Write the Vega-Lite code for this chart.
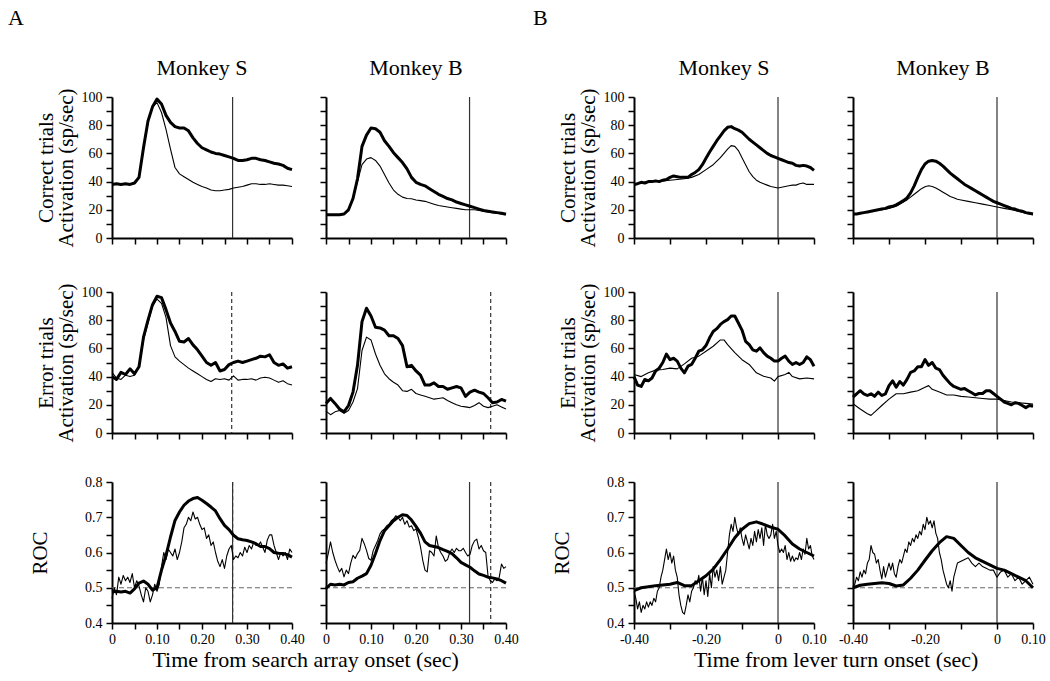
{
"$schema":"https://vega.github.io/schema/vega-lite/v6.json",
"background":"white",
"padding":{"left":8,"top":6,"right":2,"bottom":2},
"datasets":{
"markers":[{"p":"as1","t":0.268,"event":"correct RT"},{"p":"as2","t":0.266,"event":"error RT"},{"p":"as3","t":0.268,"event":"correct RT"},{"p":"as3","t":0.268,"event":"error RT"},{"p":"ab1","t":0.319,"event":"correct RT"},{"p":"ab2","t":0.366,"event":"error RT"},{"p":"ab3","t":0.319,"event":"correct RT"},{"p":"ab3","t":0.366,"event":"error RT"},{"p":"bs1","t":0,"event":"lever onset"},{"p":"bs2","t":0,"event":"lever onset"},{"p":"bs3","t":0,"event":"lever onset"},{"p":"bb1","t":0,"event":"lever onset"},{"p":"bb2","t":0,"event":"lever onset"},{"p":"bb3","t":0,"event":"lever onset"}],
"curves":[
{"p":"as1","t":0,"target":38,"distractor":38},{"p":"as1","t":0.01,"target":38.5,"distractor":38},{"p":"as1","t":0.02,"target":38,"distractor":38.5},{"p":"as1","t":0.03,"target":38.5,"distractor":38},{"p":"as1","t":0.04,"target":38,"distractor":38},{"p":"as1","t":0.05,"target":39,"distractor":39},{"p":"as1","t":0.06,"target":43,"distractor":43},{"p":"as1","t":0.07,"target":64,"distractor":63},{"p":"as1","t":0.08,"target":83,"distractor":82},{"p":"as1","t":0.09,"target":93,"distractor":93},{"p":"as1","t":0.1,"target":98.5,"distractor":96},{"p":"as1","t":0.11,"target":95,"distractor":89},{"p":"as1","t":0.12,"target":87,"distractor":77},{"p":"as1","t":0.13,"target":82,"distractor":63},{"p":"as1","t":0.14,"target":79,"distractor":50},{"p":"as1","t":0.15,"target":78,"distractor":45.5},{"p":"as1","t":0.16,"target":78,"distractor":43.5},{"p":"as1","t":0.17,"target":76,"distractor":41.5},{"p":"as1","t":0.18,"target":71,"distractor":39.5},{"p":"as1","t":0.19,"target":67,"distractor":38},{"p":"as1","t":0.2,"target":64,"distractor":36.5},{"p":"as1","t":0.21,"target":62.5,"distractor":35.5},{"p":"as1","t":0.22,"target":61,"distractor":34},{"p":"as1","t":0.23,"target":60,"distractor":33.5},{"p":"as1","t":0.24,"target":59.5,"distractor":33.5},{"p":"as1","t":0.25,"target":58.5,"distractor":34},{"p":"as1","t":0.26,"target":57.5,"distractor":34.5},{"p":"as1","t":0.27,"target":56.5,"distractor":35.5},{"p":"as1","t":0.28,"target":55,"distractor":36},{"p":"as1","t":0.29,"target":55,"distractor":36.5},{"p":"as1","t":0.3,"target":55.5,"distractor":37.5},{"p":"as1","t":0.31,"target":56.5,"distractor":38.5},{"p":"as1","t":0.32,"target":56.5,"distractor":38.5},{"p":"as1","t":0.33,"target":55.5,"distractor":38},{"p":"as1","t":0.34,"target":55,"distractor":38},{"p":"as1","t":0.35,"target":54,"distractor":38.5},{"p":"as1","t":0.36,"target":53,"distractor":38},{"p":"as1","t":0.37,"target":52.5,"distractor":37.5},{"p":"as1","t":0.38,"target":51.5,"distractor":37.5},{"p":"as1","t":0.39,"target":49.5,"distractor":37},{"p":"as1","t":0.4,"target":48.5,"distractor":36.5},
{"p":"ab1","t":0,"target":16.5,"distractor":16.5},{"p":"ab1","t":0.01,"target":16.5,"distractor":16.5},{"p":"ab1","t":0.02,"target":16.5,"distractor":16.5},{"p":"ab1","t":0.03,"target":16.5,"distractor":16.5},{"p":"ab1","t":0.04,"target":17,"distractor":17},{"p":"ab1","t":0.05,"target":20,"distractor":20},{"p":"ab1","t":0.06,"target":28,"distractor":28},{"p":"ab1","t":0.07,"target":42,"distractor":40},{"p":"ab1","t":0.08,"target":65,"distractor":52},{"p":"ab1","t":0.09,"target":73,"distractor":56},{"p":"ab1","t":0.1,"target":78,"distractor":57},{"p":"ab1","t":0.11,"target":77.5,"distractor":55},{"p":"ab1","t":0.12,"target":75,"distractor":51},{"p":"ab1","t":0.13,"target":69,"distractor":45},{"p":"ab1","t":0.14,"target":65,"distractor":39},{"p":"ab1","t":0.15,"target":60.5,"distractor":34},{"p":"ab1","t":0.16,"target":57,"distractor":31},{"p":"ab1","t":0.17,"target":53.5,"distractor":29},{"p":"ab1","t":0.18,"target":49,"distractor":28},{"p":"ab1","t":0.19,"target":43,"distractor":27.8},{"p":"ab1","t":0.2,"target":39.5,"distractor":27},{"p":"ab1","t":0.21,"target":38,"distractor":26.5},{"p":"ab1","t":0.22,"target":37,"distractor":26},{"p":"ab1","t":0.23,"target":35,"distractor":25},{"p":"ab1","t":0.24,"target":33,"distractor":24},{"p":"ab1","t":0.25,"target":31,"distractor":23},{"p":"ab1","t":0.26,"target":29.5,"distractor":22.5},{"p":"ab1","t":0.27,"target":28,"distractor":22},{"p":"ab1","t":0.28,"target":27,"distractor":21.5},{"p":"ab1","t":0.29,"target":25.5,"distractor":21},{"p":"ab1","t":0.3,"target":24.5,"distractor":20.5},{"p":"ab1","t":0.31,"target":23.5,"distractor":20},{"p":"ab1","t":0.32,"target":22.5,"distractor":20},{"p":"ab1","t":0.33,"target":21.5,"distractor":20},{"p":"ab1","t":0.34,"target":20.5,"distractor":19.5},{"p":"ab1","t":0.35,"target":19.5,"distractor":19},{"p":"ab1","t":0.36,"target":19,"distractor":18.5},{"p":"ab1","t":0.37,"target":18.5,"distractor":18},{"p":"ab1","t":0.38,"target":18,"distractor":17.5},{"p":"ab1","t":0.39,"target":17.5,"distractor":17},{"p":"ab1","t":0.4,"target":16.8,"distractor":16.8},
{"p":"as2","t":0,"target":40,"distractor":43},{"p":"as2","t":0.01,"target":38,"distractor":39},{"p":"as2","t":0.02,"target":43,"distractor":38},{"p":"as2","t":0.03,"target":41.5,"distractor":41},{"p":"as2","t":0.04,"target":45.5,"distractor":40},{"p":"as2","t":0.05,"target":42,"distractor":41},{"p":"as2","t":0.06,"target":47,"distractor":47},{"p":"as2","t":0.07,"target":68,"distractor":66},{"p":"as2","t":0.08,"target":80,"distractor":78},{"p":"as2","t":0.09,"target":91,"distractor":90},{"p":"as2","t":0.1,"target":97,"distractor":95},{"p":"as2","t":0.11,"target":96,"distractor":92},{"p":"as2","t":0.12,"target":87.5,"distractor":82},{"p":"as2","t":0.13,"target":78,"distractor":62},{"p":"as2","t":0.14,"target":72,"distractor":54},{"p":"as2","t":0.15,"target":65,"distractor":51},{"p":"as2","t":0.16,"target":64.5,"distractor":48.5},{"p":"as2","t":0.17,"target":67,"distractor":46},{"p":"as2","t":0.18,"target":62.5,"distractor":44},{"p":"as2","t":0.19,"target":59,"distractor":42},{"p":"as2","t":0.2,"target":54.5,"distractor":40},{"p":"as2","t":0.21,"target":50,"distractor":38},{"p":"as2","t":0.22,"target":48,"distractor":36.5},{"p":"as2","t":0.23,"target":50,"distractor":38.5},{"p":"as2","t":0.24,"target":44,"distractor":38},{"p":"as2","t":0.25,"target":45,"distractor":38.5},{"p":"as2","t":0.26,"target":48.5,"distractor":37.5},{"p":"as2","t":0.27,"target":50,"distractor":40.5},{"p":"as2","t":0.28,"target":51,"distractor":37.5},{"p":"as2","t":0.29,"target":50,"distractor":38},{"p":"as2","t":0.3,"target":51,"distractor":38},{"p":"as2","t":0.31,"target":52,"distractor":38.5},{"p":"as2","t":0.32,"target":53,"distractor":37.5},{"p":"as2","t":0.33,"target":54.5,"distractor":39},{"p":"as2","t":0.34,"target":54,"distractor":39.5},{"p":"as2","t":0.35,"target":55.5,"distractor":39},{"p":"as2","t":0.36,"target":50,"distractor":37.5},{"p":"as2","t":0.37,"target":48,"distractor":36},{"p":"as2","t":0.38,"target":49,"distractor":37},{"p":"as2","t":0.39,"target":46,"distractor":35},{"p":"as2","t":0.4,"target":47,"distractor":34},
{"p":"ab2","t":0,"target":21,"distractor":15.5},{"p":"ab2","t":0.01,"target":24.5,"distractor":13},{"p":"ab2","t":0.02,"target":21,"distractor":15},{"p":"ab2","t":0.03,"target":17,"distractor":16},{"p":"ab2","t":0.04,"target":15,"distractor":14},{"p":"ab2","t":0.05,"target":19.5,"distractor":16},{"p":"ab2","t":0.06,"target":29,"distractor":22},{"p":"ab2","t":0.07,"target":48,"distractor":31.5},{"p":"ab2","t":0.08,"target":79,"distractor":58.5},{"p":"ab2","t":0.09,"target":88.5,"distractor":68},{"p":"ab2","t":0.1,"target":83,"distractor":66},{"p":"ab2","t":0.11,"target":75,"distractor":56},{"p":"ab2","t":0.12,"target":74.5,"distractor":48},{"p":"ab2","t":0.13,"target":73,"distractor":42},{"p":"ab2","t":0.14,"target":69,"distractor":38.5},{"p":"ab2","t":0.15,"target":69,"distractor":36},{"p":"ab2","t":0.16,"target":67,"distractor":34},{"p":"ab2","t":0.17,"target":62,"distractor":30},{"p":"ab2","t":0.18,"target":47,"distractor":29.5},{"p":"ab2","t":0.19,"target":48,"distractor":31},{"p":"ab2","t":0.2,"target":44,"distractor":28},{"p":"ab2","t":0.21,"target":41,"distractor":27},{"p":"ab2","t":0.22,"target":34,"distractor":26},{"p":"ab2","t":0.23,"target":34,"distractor":25},{"p":"ab2","t":0.24,"target":35.6,"distractor":24},{"p":"ab2","t":0.25,"target":33,"distractor":24.5},{"p":"ab2","t":0.26,"target":33,"distractor":25},{"p":"ab2","t":0.27,"target":31,"distractor":23},{"p":"ab2","t":0.28,"target":32,"distractor":21.5},{"p":"ab2","t":0.29,"target":33,"distractor":20},{"p":"ab2","t":0.3,"target":32,"distractor":19},{"p":"ab2","t":0.31,"target":26,"distractor":18.5},{"p":"ab2","t":0.32,"target":29,"distractor":18},{"p":"ab2","t":0.33,"target":30.4,"distractor":19.5},{"p":"ab2","t":0.34,"target":29,"distractor":21.5},{"p":"ab2","t":0.35,"target":28,"distractor":19},{"p":"ab2","t":0.36,"target":25,"distractor":18},{"p":"ab2","t":0.37,"target":21.5,"distractor":19},{"p":"ab2","t":0.38,"target":22,"distractor":20},{"p":"ab2","t":0.39,"target":23.8,"distractor":18.5},{"p":"ab2","t":0.4,"target":22.6,"distractor":17},
{"p":"as3","t":0,"target":0.488,"distractor":0.47},{"p":"as3","t":0.005,"distractor":0.5},{"p":"as3","t":0.01,"target":0.49,"distractor":0.48},{"p":"as3","t":0.015,"distractor":0.53},{"p":"as3","t":0.02,"target":0.488,"distractor":0.51},{"p":"as3","t":0.025,"distractor":0.535},{"p":"as3","t":0.03,"target":0.49,"distractor":0.52},{"p":"as3","t":0.035,"distractor":0.53},{"p":"as3","t":0.04,"target":0.485,"distractor":0.515},{"p":"as3","t":0.045,"distractor":0.54},{"p":"as3","t":0.05,"target":0.497,"distractor":0.5},{"p":"as3","t":0.055,"distractor":0.52},{"p":"as3","t":0.06,"target":0.513,"distractor":0.505},{"p":"as3","t":0.065,"distractor":0.48},{"p":"as3","t":0.07,"target":0.519,"distractor":0.46},{"p":"as3","t":0.075,"distractor":0.5},{"p":"as3","t":0.08,"target":0.51,"distractor":0.49},{"p":"as3","t":0.085,"distractor":0.46},{"p":"as3","t":0.09,"target":0.493,"distractor":0.48},{"p":"as3","t":0.095,"distractor":0.51},{"p":"as3","t":0.1,"target":0.5,"distractor":0.49},{"p":"as3","t":0.105,"distractor":0.51},{"p":"as3","t":0.11,"target":0.55,"distractor":0.56},{"p":"as3","t":0.115,"distractor":0.6},{"p":"as3","t":0.12,"target":0.592,"distractor":0.58},{"p":"as3","t":0.125,"distractor":0.61},{"p":"as3","t":0.13,"target":0.644,"distractor":0.6},{"p":"as3","t":0.135,"distractor":0.59},{"p":"as3","t":0.14,"target":0.691,"distractor":0.61},{"p":"as3","t":0.145,"distractor":0.58},{"p":"as3","t":0.15,"target":0.715,"distractor":0.6},{"p":"as3","t":0.155,"distractor":0.63},{"p":"as3","t":0.16,"target":0.734,"distractor":0.67},{"p":"as3","t":0.165,"distractor":0.68},{"p":"as3","t":0.17,"target":0.746,"distractor":0.7},{"p":"as3","t":0.175,"distractor":0.69},{"p":"as3","t":0.18,"target":0.753,"distractor":0.715},{"p":"as3","t":0.185,"distractor":0.695},{"p":"as3","t":0.19,"target":0.756,"distractor":0.7},{"p":"as3","t":0.195,"distractor":0.68},{"p":"as3","t":0.2,"target":0.748,"distractor":0.665},{"p":"as3","t":0.205,"distractor":0.67},{"p":"as3","t":0.21,"target":0.739,"distractor":0.64},{"p":"as3","t":0.215,"distractor":0.65},{"p":"as3","t":0.22,"target":0.729,"distractor":0.62},{"p":"as3","t":0.225,"distractor":0.63},{"p":"as3","t":0.23,"target":0.718,"distractor":0.6},{"p":"as3","t":0.235,"distractor":0.575},{"p":"as3","t":0.24,"target":0.696,"distractor":0.56},{"p":"as3","t":0.245,"distractor":0.58},{"p":"as3","t":0.25,"target":0.677,"distractor":0.555},{"p":"as3","t":0.255,"distractor":0.59},{"p":"as3","t":0.26,"target":0.665,"distractor":0.61},{"p":"as3","t":0.265,"distractor":0.62},{"p":"as3","t":0.27,"target":0.649,"distractor":0.58},{"p":"as3","t":0.275,"distractor":0.59},{"p":"as3","t":0.28,"target":0.639,"distractor":0.585},{"p":"as3","t":0.285,"distractor":0.6},{"p":"as3","t":0.29,"target":0.636,"distractor":0.59},{"p":"as3","t":0.295,"distractor":0.615},{"p":"as3","t":0.3,"target":0.634,"distractor":0.6},{"p":"as3","t":0.305,"distractor":0.62},{"p":"as3","t":0.31,"target":0.63,"distractor":0.61},{"p":"as3","t":0.315,"distractor":0.63},{"p":"as3","t":0.32,"target":0.625,"distractor":0.62},{"p":"as3","t":0.325,"distractor":0.62},{"p":"as3","t":0.33,"target":0.617,"distractor":0.63},{"p":"as3","t":0.335,"distractor":0.615},{"p":"as3","t":0.34,"target":0.617,"distractor":0.6},{"p":"as3","t":0.345,"distractor":0.635},{"p":"as3","t":0.35,"target":0.611,"distractor":0.65},{"p":"as3","t":0.355,"distractor":0.65},{"p":"as3","t":0.36,"target":0.6,"distractor":0.62},{"p":"as3","t":0.365,"distractor":0.6},{"p":"as3","t":0.37,"target":0.598,"distractor":0.58},{"p":"as3","t":0.375,"distractor":0.6},{"p":"as3","t":0.38,"target":0.597,"distractor":0.59},{"p":"as3","t":0.385,"distractor":0.6},{"p":"as3","t":0.39,"target":0.594,"distractor":0.58},{"p":"as3","t":0.395,"distractor":0.61},{"p":"as3","t":0.4,"target":0.587,"distractor":0.6},
{"p":"ab3","t":0,"target":0.498,"distractor":0.569},{"p":"ab3","t":0.005,"distractor":0.597},{"p":"ab3","t":0.01,"target":0.51,"distractor":0.63},{"p":"ab3","t":0.015,"distractor":0.6},{"p":"ab3","t":0.02,"target":0.508,"distractor":0.578},{"p":"ab3","t":0.025,"distractor":0.56},{"p":"ab3","t":0.03,"target":0.51,"distractor":0.545},{"p":"ab3","t":0.035,"distractor":0.555},{"p":"ab3","t":0.04,"target":0.508,"distractor":0.531},{"p":"ab3","t":0.045,"distractor":0.55},{"p":"ab3","t":0.05,"target":0.515,"distractor":0.54},{"p":"ab3","t":0.055,"distractor":0.57},{"p":"ab3","t":0.06,"target":0.517,"distractor":0.592},{"p":"ab3","t":0.065,"distractor":0.583},{"p":"ab3","t":0.07,"target":0.527,"distractor":0.597},{"p":"ab3","t":0.075,"distractor":0.606},{"p":"ab3","t":0.08,"target":0.533,"distractor":0.64},{"p":"ab3","t":0.085,"distractor":0.625},{"p":"ab3","t":0.09,"target":0.54,"distractor":0.606},{"p":"ab3","t":0.095,"distractor":0.583},{"p":"ab3","t":0.1,"target":0.564,"distractor":0.578},{"p":"ab3","t":0.105,"distractor":0.606},{"p":"ab3","t":0.11,"target":0.597,"distractor":0.62},{"p":"ab3","t":0.115,"distractor":0.634},{"p":"ab3","t":0.12,"target":0.634,"distractor":0.653},{"p":"ab3","t":0.125,"distractor":0.662},{"p":"ab3","t":0.13,"target":0.662,"distractor":0.667},{"p":"ab3","t":0.135,"distractor":0.676},{"p":"ab3","t":0.14,"target":0.676,"distractor":0.68},{"p":"ab3","t":0.145,"distractor":0.69},{"p":"ab3","t":0.15,"target":0.69,"distractor":0.695},{"p":"ab3","t":0.155,"distractor":0.704},{"p":"ab3","t":0.16,"target":0.7,"distractor":0.7},{"p":"ab3","t":0.165,"distractor":0.69},{"p":"ab3","t":0.17,"target":0.707,"distractor":0.7},{"p":"ab3","t":0.175,"distractor":0.68},{"p":"ab3","t":0.18,"target":0.705,"distractor":0.69},{"p":"ab3","t":0.185,"distractor":0.672},{"p":"ab3","t":0.19,"target":0.692,"distractor":0.676},{"p":"ab3","t":0.195,"distractor":0.662},{"p":"ab3","t":0.2,"target":0.674,"distractor":0.667},{"p":"ab3","t":0.205,"distractor":0.644},{"p":"ab3","t":0.21,"target":0.655,"distractor":0.616},{"p":"ab3","t":0.215,"distractor":0.578},{"p":"ab3","t":0.22,"target":0.63,"distractor":0.55},{"p":"ab3","t":0.225,"distractor":0.545},{"p":"ab3","t":0.23,"target":0.62,"distractor":0.605},{"p":"ab3","t":0.235,"distractor":0.6},{"p":"ab3","t":0.24,"target":0.617,"distractor":0.59},{"p":"ab3","t":0.245,"distractor":0.647},{"p":"ab3","t":0.25,"target":0.614,"distractor":0.614},{"p":"ab3","t":0.255,"distractor":0.6},{"p":"ab3","t":0.26,"target":0.608,"distractor":0.59},{"p":"ab3","t":0.265,"distractor":0.575},{"p":"ab3","t":0.27,"target":0.603,"distractor":0.58},{"p":"ab3","t":0.275,"distractor":0.6},{"p":"ab3","t":0.28,"target":0.597,"distractor":0.61},{"p":"ab3","t":0.285,"distractor":0.6},{"p":"ab3","t":0.29,"target":0.585,"distractor":0.612},{"p":"ab3","t":0.295,"distractor":0.605},{"p":"ab3","t":0.3,"target":0.572,"distractor":0.605},{"p":"ab3","t":0.305,"distractor":0.612},{"p":"ab3","t":0.31,"target":0.565,"distractor":0.6},{"p":"ab3","t":0.315,"distractor":0.59},{"p":"ab3","t":0.32,"target":0.558,"distractor":0.595},{"p":"ab3","t":0.325,"distractor":0.62},{"p":"ab3","t":0.33,"target":0.548,"distractor":0.633},{"p":"ab3","t":0.335,"distractor":0.638},{"p":"ab3","t":0.34,"target":0.539,"distractor":0.61},{"p":"ab3","t":0.345,"distractor":0.62},{"p":"ab3","t":0.35,"target":0.535,"distractor":0.605},{"p":"ab3","t":0.355,"distractor":0.6},{"p":"ab3","t":0.36,"target":0.53,"distractor":0.534},{"p":"ab3","t":0.365,"distractor":0.52},{"p":"ab3","t":0.37,"target":0.528,"distractor":0.515},{"p":"ab3","t":0.375,"distractor":0.525},{"p":"ab3","t":0.38,"target":0.525,"distractor":0.52},{"p":"ab3","t":0.385,"distractor":0.53},{"p":"ab3","t":0.39,"target":0.52,"distractor":0.567},{"p":"ab3","t":0.395,"distractor":0.555},{"p":"ab3","t":0.4,"target":0.513,"distractor":0.56},
{"p":"bs1","t":-0.4,"target":38,"distractor":38},{"p":"bs1","t":-0.39,"target":38.5},{"p":"bs1","t":-0.38,"target":39.5,"distractor":39},{"p":"bs1","t":-0.37,"target":39},{"p":"bs1","t":-0.36,"target":40,"distractor":40},{"p":"bs1","t":-0.35,"target":40},{"p":"bs1","t":-0.34,"target":40.5,"distractor":40},{"p":"bs1","t":-0.33,"target":40},{"p":"bs1","t":-0.32,"target":41,"distractor":40.5},{"p":"bs1","t":-0.31,"target":41.5},{"p":"bs1","t":-0.3,"target":43,"distractor":41},{"p":"bs1","t":-0.29,"target":44},{"p":"bs1","t":-0.28,"target":43.5,"distractor":41.5},{"p":"bs1","t":-0.27,"target":43},{"p":"bs1","t":-0.26,"target":43,"distractor":42},{"p":"bs1","t":-0.25,"target":43},{"p":"bs1","t":-0.24,"target":45,"distractor":43},{"p":"bs1","t":-0.23,"target":46.5},{"p":"bs1","t":-0.22,"target":48.5,"distractor":45},{"p":"bs1","t":-0.21,"target":52},{"p":"bs1","t":-0.2,"target":56.5,"distractor":48.5},{"p":"bs1","t":-0.19,"target":61},{"p":"bs1","t":-0.18,"target":65,"distractor":52},{"p":"bs1","t":-0.17,"target":69},{"p":"bs1","t":-0.16,"target":72.5,"distractor":57},{"p":"bs1","t":-0.15,"target":76,"distractor":60},{"p":"bs1","t":-0.14,"target":78.5,"distractor":63},{"p":"bs1","t":-0.13,"target":79,"distractor":65.5},{"p":"bs1","t":-0.12,"target":77.5,"distractor":65},{"p":"bs1","t":-0.11,"target":76.5,"distractor":62},{"p":"bs1","t":-0.1,"target":75,"distractor":57},{"p":"bs1","t":-0.09,"target":72.5,"distractor":52},{"p":"bs1","t":-0.08,"target":70,"distractor":47},{"p":"bs1","t":-0.07,"target":68,"distractor":43.5},{"p":"bs1","t":-0.06,"target":66,"distractor":41},{"p":"bs1","t":-0.05,"target":64,"distractor":39.5},{"p":"bs1","t":-0.04,"target":62,"distractor":38.5},{"p":"bs1","t":-0.03,"target":60,"distractor":37.5},{"p":"bs1","t":-0.02,"target":58.5,"distractor":36.5},{"p":"bs1","t":-0.01,"target":57.5,"distractor":36},{"p":"bs1","t":0,"target":56.5,"distractor":35.5},{"p":"bs1","t":0.01,"target":55.5,"distractor":36},{"p":"bs1","t":0.02,"target":54.5,"distractor":36.5},{"p":"bs1","t":0.03,"target":53.5,"distractor":37},{"p":"bs1","t":0.04,"target":53,"distractor":37.5},{"p":"bs1","t":0.05,"target":51.5,"distractor":37.5},{"p":"bs1","t":0.06,"target":51,"distractor":38.5},{"p":"bs1","t":0.07,"target":51.5,"distractor":39},{"p":"bs1","t":0.08,"target":51,"distractor":38},{"p":"bs1","t":0.09,"target":50,"distractor":38},{"p":"bs1","t":0.1,"target":48,"distractor":38},
{"p":"bb1","t":-0.4,"target":17,"distractor":17},{"p":"bb1","t":-0.39,"target":17},{"p":"bb1","t":-0.38,"target":17.5,"distractor":17.5},{"p":"bb1","t":-0.37,"target":18},{"p":"bb1","t":-0.36,"target":18.5,"distractor":18.5},{"p":"bb1","t":-0.35,"target":19},{"p":"bb1","t":-0.34,"target":19.5,"distractor":19.5},{"p":"bb1","t":-0.33,"target":20},{"p":"bb1","t":-0.32,"target":20.5,"distractor":20},{"p":"bb1","t":-0.31,"target":21},{"p":"bb1","t":-0.3,"target":22,"distractor":21},{"p":"bb1","t":-0.29,"target":22.5},{"p":"bb1","t":-0.28,"target":23.5,"distractor":22.5},{"p":"bb1","t":-0.27,"target":25,"distractor":24},{"p":"bb1","t":-0.26,"target":26.5,"distractor":25.5},{"p":"bb1","t":-0.25,"target":28.5,"distractor":27},{"p":"bb1","t":-0.24,"target":32,"distractor":29},{"p":"bb1","t":-0.23,"target":37,"distractor":31},{"p":"bb1","t":-0.22,"target":43,"distractor":33},{"p":"bb1","t":-0.21,"target":48.5,"distractor":35},{"p":"bb1","t":-0.2,"target":52.5,"distractor":36.3},{"p":"bb1","t":-0.19,"target":54.5,"distractor":37},{"p":"bb1","t":-0.18,"target":55,"distractor":36.5},{"p":"bb1","t":-0.17,"target":54.5,"distractor":35.5},{"p":"bb1","t":-0.16,"target":53,"distractor":34},{"p":"bb1","t":-0.15,"target":51,"distractor":32.5},{"p":"bb1","t":-0.14,"target":48.5,"distractor":31},{"p":"bb1","t":-0.13,"target":46,"distractor":29.5},{"p":"bb1","t":-0.12,"target":44,"distractor":28.5},{"p":"bb1","t":-0.11,"target":42,"distractor":27.5},{"p":"bb1","t":-0.1,"target":40,"distractor":27},{"p":"bb1","t":-0.09,"target":38},{"p":"bb1","t":-0.08,"target":36.5,"distractor":26},{"p":"bb1","t":-0.07,"target":35},{"p":"bb1","t":-0.06,"target":33.5,"distractor":25},{"p":"bb1","t":-0.05,"target":32},{"p":"bb1","t":-0.04,"target":30.5,"distractor":24},{"p":"bb1","t":-0.03,"target":29},{"p":"bb1","t":-0.02,"target":27.5,"distractor":23},{"p":"bb1","t":-0.01,"target":26},{"p":"bb1","t":0,"target":25,"distractor":22},{"p":"bb1","t":0.01,"target":24},{"p":"bb1","t":0.02,"target":23,"distractor":21},{"p":"bb1","t":0.03,"target":22},{"p":"bb1","t":0.04,"target":21,"distractor":20},{"p":"bb1","t":0.05,"target":20.5},{"p":"bb1","t":0.06,"target":19.5,"distractor":19},{"p":"bb1","t":0.07,"target":19},{"p":"bb1","t":0.08,"target":18,"distractor":17.5},{"p":"bb1","t":0.09,"target":17.5},{"p":"bb1","t":0.1,"target":17,"distractor":16.5},
{"p":"bs2","t":-0.4,"target":40,"distractor":41.5},{"p":"bs2","t":-0.39,"target":34},{"p":"bs2","t":-0.38,"target":33,"distractor":40},{"p":"bs2","t":-0.37,"target":38},{"p":"bs2","t":-0.36,"target":37,"distractor":42.7},{"p":"bs2","t":-0.35,"target":39},{"p":"bs2","t":-0.34,"target":44,"distractor":44.6},{"p":"bs2","t":-0.33,"target":46},{"p":"bs2","t":-0.32,"target":50,"distractor":45},{"p":"bs2","t":-0.31,"target":56},{"p":"bs2","t":-0.3,"target":52,"distractor":46},{"p":"bs2","t":-0.29,"target":53},{"p":"bs2","t":-0.28,"target":51,"distractor":45.5},{"p":"bs2","t":-0.27,"target":46},{"p":"bs2","t":-0.26,"target":42.7,"distractor":49},{"p":"bs2","t":-0.25,"target":47.4},{"p":"bs2","t":-0.24,"target":48.6,"distractor":53},{"p":"bs2","t":-0.23,"target":53},{"p":"bs2","t":-0.22,"target":58,"distractor":54.5},{"p":"bs2","t":-0.21,"target":59},{"p":"bs2","t":-0.2,"target":62,"distractor":58},{"p":"bs2","t":-0.19,"target":67.5},{"p":"bs2","t":-0.18,"target":72,"distractor":61.5},{"p":"bs2","t":-0.17,"target":74},{"p":"bs2","t":-0.16,"target":77,"distractor":66},{"p":"bs2","t":-0.15,"target":79,"distractor":66},{"p":"bs2","t":-0.14,"target":80.4,"distractor":62.7},{"p":"bs2","t":-0.13,"target":83},{"p":"bs2","t":-0.12,"target":83,"distractor":57},{"p":"bs2","t":-0.11,"target":78},{"p":"bs2","t":-0.1,"target":73,"distractor":52},{"p":"bs2","t":-0.09,"target":65},{"p":"bs2","t":-0.08,"target":62.7,"distractor":48.6},{"p":"bs2","t":-0.07,"target":59},{"p":"bs2","t":-0.06,"target":58,"distractor":42.7},{"p":"bs2","t":-0.05,"target":60.4},{"p":"bs2","t":-0.04,"target":57,"distractor":40.3},{"p":"bs2","t":-0.03,"target":54.5},{"p":"bs2","t":-0.02,"target":53,"distractor":39},{"p":"bs2","t":-0.01,"target":51,"distractor":36.8},{"p":"bs2","t":0,"target":51,"distractor":40},{"p":"bs2","t":0.01,"target":53},{"p":"bs2","t":0.02,"target":54.5,"distractor":41.5},{"p":"bs2","t":0.03,"target":51,"distractor":43},{"p":"bs2","t":0.04,"target":48.6,"distractor":40},{"p":"bs2","t":0.05,"target":50},{"p":"bs2","t":0.06,"target":48.6,"distractor":38.4},{"p":"bs2","t":0.07,"target":50},{"p":"bs2","t":0.08,"target":54,"distractor":39},{"p":"bs2","t":0.09,"target":52},{"p":"bs2","t":0.1,"target":47.4,"distractor":38.4},
{"p":"bb2","t":-0.4,"target":25.4,"distractor":20.7},{"p":"bb2","t":-0.39,"target":27.8},{"p":"bb2","t":-0.38,"target":30,"distractor":17},{"p":"bb2","t":-0.37,"target":27.8},{"p":"bb2","t":-0.36,"target":26.6,"distractor":13.6},{"p":"bb2","t":-0.35,"target":27.8,"distractor":12.5},{"p":"bb2","t":-0.34,"target":26,"distractor":14.8},{"p":"bb2","t":-0.33,"target":29},{"p":"bb2","t":-0.32,"target":26.6,"distractor":19.5},{"p":"bb2","t":-0.31,"target":27.8},{"p":"bb2","t":-0.3,"target":33.6,"distractor":24},{"p":"bb2","t":-0.29,"target":37},{"p":"bb2","t":-0.28,"target":32.5,"distractor":27.8},{"p":"bb2","t":-0.27,"target":36.5},{"p":"bb2","t":-0.26,"target":34,"distractor":27.8},{"p":"bb2","t":-0.25,"target":38},{"p":"bb2","t":-0.24,"target":43,"distractor":29},{"p":"bb2","t":-0.23,"target":44},{"p":"bb2","t":-0.22,"target":47,"distractor":30},{"p":"bb2","t":-0.21,"target":47},{"p":"bb2","t":-0.2,"target":52,"distractor":32.5},{"p":"bb2","t":-0.19,"target":48,"distractor":33.6},{"p":"bb2","t":-0.18,"target":50,"distractor":31},{"p":"bb2","t":-0.17,"target":46},{"p":"bb2","t":-0.16,"target":45,"distractor":29},{"p":"bb2","t":-0.15,"target":41},{"p":"bb2","t":-0.14,"target":38,"distractor":27},{"p":"bb2","t":-0.13,"target":35},{"p":"bb2","t":-0.12,"target":33,"distractor":27},{"p":"bb2","t":-0.11,"target":32},{"p":"bb2","t":-0.1,"target":31,"distractor":26},{"p":"bb2","t":-0.09,"target":31.5},{"p":"bb2","t":-0.08,"target":30,"distractor":25.5},{"p":"bb2","t":-0.07,"target":28.5},{"p":"bb2","t":-0.06,"target":27,"distractor":25},{"p":"bb2","t":-0.05,"target":28},{"p":"bb2","t":-0.04,"target":28,"distractor":24.5},{"p":"bb2","t":-0.03,"target":30},{"p":"bb2","t":-0.02,"target":30,"distractor":24},{"p":"bb2","t":-0.01,"target":28},{"p":"bb2","t":0,"target":26,"distractor":24},{"p":"bb2","t":0.01,"target":24},{"p":"bb2","t":0.02,"target":22,"distractor":23},{"p":"bb2","t":0.03,"target":21},{"p":"bb2","t":0.04,"target":20,"distractor":22},{"p":"bb2","t":0.05,"target":21.5},{"p":"bb2","t":0.06,"target":21,"distractor":21.5},{"p":"bb2","t":0.07,"target":19.5},{"p":"bb2","t":0.08,"target":18,"distractor":21},{"p":"bb2","t":0.09,"target":19.5},{"p":"bb2","t":0.1,"target":19,"distractor":20.5},
{"p":"bs3","t":-0.4,"target":0.492,"distractor":0.49},{"p":"bs3","t":-0.395,"distractor":0.47},{"p":"bs3","t":-0.39,"distractor":0.44},{"p":"bs3","t":-0.385,"distractor":0.46},{"p":"bs3","t":-0.38,"target":0.5,"distractor":0.43},{"p":"bs3","t":-0.375,"distractor":0.45},{"p":"bs3","t":-0.37,"distractor":0.44},{"p":"bs3","t":-0.365,"distractor":0.46},{"p":"bs3","t":-0.36,"target":0.503,"distractor":0.445},{"p":"bs3","t":-0.355,"distractor":0.46},{"p":"bs3","t":-0.35,"distractor":0.45},{"p":"bs3","t":-0.345,"distractor":0.47},{"p":"bs3","t":-0.34,"target":0.506,"distractor":0.46},{"p":"bs3","t":-0.335,"distractor":0.49},{"p":"bs3","t":-0.33,"distractor":0.5},{"p":"bs3","t":-0.325,"distractor":0.53},{"p":"bs3","t":-0.32,"target":0.508,"distractor":0.55},{"p":"bs3","t":-0.315,"distractor":0.58},{"p":"bs3","t":-0.31,"distractor":0.61},{"p":"bs3","t":-0.305,"distractor":0.58},{"p":"bs3","t":-0.3,"target":0.51,"distractor":0.6},{"p":"bs3","t":-0.295,"distractor":0.57},{"p":"bs3","t":-0.29,"distractor":0.59},{"p":"bs3","t":-0.285,"distractor":0.55},{"p":"bs3","t":-0.28,"target":0.515,"distractor":0.53},{"p":"bs3","t":-0.275,"distractor":0.48},{"p":"bs3","t":-0.27,"distractor":0.45},{"p":"bs3","t":-0.265,"distractor":0.43},{"p":"bs3","t":-0.26,"target":0.506,"distractor":0.425},{"p":"bs3","t":-0.255,"distractor":0.45},{"p":"bs3","t":-0.25,"distractor":0.48},{"p":"bs3","t":-0.245,"distractor":0.46},{"p":"bs3","t":-0.24,"target":0.506,"distractor":0.49},{"p":"bs3","t":-0.235,"distractor":0.5},{"p":"bs3","t":-0.23,"distractor":0.52},{"p":"bs3","t":-0.225,"distractor":0.51},{"p":"bs3","t":-0.22,"target":0.52,"distractor":0.535},{"p":"bs3","t":-0.215,"distractor":0.49},{"p":"bs3","t":-0.21,"distractor":0.53},{"p":"bs3","t":-0.205,"distractor":0.48},{"p":"bs3","t":-0.2,"target":0.534,"distractor":0.52},{"p":"bs3","t":-0.195,"distractor":0.475},{"p":"bs3","t":-0.19,"distractor":0.54},{"p":"bs3","t":-0.185,"distractor":0.5},{"p":"bs3","t":-0.18,"target":0.553,"distractor":0.56},{"p":"bs3","t":-0.175,"distractor":0.53},{"p":"bs3","t":-0.17,"distractor":0.55},{"p":"bs3","t":-0.165,"distractor":0.52},{"p":"bs3","t":-0.16,"target":0.58,"distractor":0.56},{"p":"bs3","t":-0.155,"distractor":0.51},{"p":"bs3","t":-0.15,"distractor":0.53},{"p":"bs3","t":-0.145,"distractor":0.55},{"p":"bs3","t":-0.14,"target":0.61,"distractor":0.6},{"p":"bs3","t":-0.135,"distractor":0.65},{"p":"bs3","t":-0.13,"distractor":0.68},{"p":"bs3","t":-0.125,"distractor":0.66},{"p":"bs3","t":-0.12,"target":0.642,"distractor":0.7},{"p":"bs3","t":-0.115,"distractor":0.67},{"p":"bs3","t":-0.11,"distractor":0.65},{"p":"bs3","t":-0.105,"distractor":0.67},{"p":"bs3","t":-0.1,"target":0.666,"distractor":0.64},{"p":"bs3","t":-0.095,"distractor":0.62},{"p":"bs3","t":-0.09,"distractor":0.65},{"p":"bs3","t":-0.085,"distractor":0.63},{"p":"bs3","t":-0.08,"target":0.682,"distractor":0.61},{"p":"bs3","t":-0.075,"distractor":0.64},{"p":"bs3","t":-0.07,"distractor":0.62},{"p":"bs3","t":-0.065,"distractor":0.66},{"p":"bs3","t":-0.06,"target":0.687,"distractor":0.63},{"p":"bs3","t":-0.055,"distractor":0.665},{"p":"bs3","t":-0.05,"distractor":0.64},{"p":"bs3","t":-0.045,"distractor":0.67},{"p":"bs3","t":-0.04,"target":0.68,"distractor":0.62},{"p":"bs3","t":-0.035,"distractor":0.68},{"p":"bs3","t":-0.03,"distractor":0.65},{"p":"bs3","t":-0.025,"distractor":0.64},{"p":"bs3","t":-0.02,"target":0.672,"distractor":0.65},{"p":"bs3","t":-0.015,"distractor":0.68},{"p":"bs3","t":-0.01,"distractor":0.64},{"p":"bs3","t":-0.005,"distractor":0.66},{"p":"bs3","t":0,"target":0.666,"distractor":0.62},{"p":"bs3","t":0.005,"distractor":0.6},{"p":"bs3","t":0.01,"distractor":0.61},{"p":"bs3","t":0.015,"distractor":0.6},{"p":"bs3","t":0.02,"target":0.647,"distractor":0.62},{"p":"bs3","t":0.025,"distractor":0.58},{"p":"bs3","t":0.03,"distractor":0.6},{"p":"bs3","t":0.035,"distractor":0.575},{"p":"bs3","t":0.04,"target":0.624,"distractor":0.59},{"p":"bs3","t":0.045,"distractor":0.575},{"p":"bs3","t":0.05,"distractor":0.585},{"p":"bs3","t":0.055,"distractor":0.58},{"p":"bs3","t":0.06,"target":0.61,"distractor":0.6},{"p":"bs3","t":0.065,"distractor":0.58},{"p":"bs3","t":0.07,"distractor":0.61},{"p":"bs3","t":0.075,"distractor":0.595},{"p":"bs3","t":0.08,"target":0.6,"distractor":0.64},{"p":"bs3","t":0.085,"distractor":0.61},{"p":"bs3","t":0.09,"distractor":0.62},{"p":"bs3","t":0.095,"distractor":0.59},{"p":"bs3","t":0.1,"target":0.59,"distractor":0.58},
{"p":"bb3","t":-0.4,"target":0.5,"distractor":0.5},{"p":"bb3","t":-0.395,"distractor":0.51},{"p":"bb3","t":-0.39,"distractor":0.53},{"p":"bb3","t":-0.385,"distractor":0.52},{"p":"bb3","t":-0.38,"target":0.507,"distractor":0.545},{"p":"bb3","t":-0.375,"distractor":0.53},{"p":"bb3","t":-0.37,"distractor":0.55},{"p":"bb3","t":-0.365,"distractor":0.54},{"p":"bb3","t":-0.36,"target":0.51,"distractor":0.57},{"p":"bb3","t":-0.355,"distractor":0.58},{"p":"bb3","t":-0.35,"distractor":0.62},{"p":"bb3","t":-0.345,"distractor":0.6},{"p":"bb3","t":-0.34,"target":0.512,"distractor":0.595},{"p":"bb3","t":-0.335,"distractor":0.57},{"p":"bb3","t":-0.33,"distractor":0.58},{"p":"bb3","t":-0.325,"distractor":0.55},{"p":"bb3","t":-0.32,"target":0.514,"distractor":0.525},{"p":"bb3","t":-0.315,"distractor":0.56},{"p":"bb3","t":-0.31,"distractor":0.53},{"p":"bb3","t":-0.305,"distractor":0.55},{"p":"bb3","t":-0.3,"target":0.512,"distractor":0.57},{"p":"bb3","t":-0.295,"distractor":0.55},{"p":"bb3","t":-0.29,"distractor":0.57},{"p":"bb3","t":-0.285,"distractor":0.54},{"p":"bb3","t":-0.28,"target":0.505,"distractor":0.53},{"p":"bb3","t":-0.275,"distractor":0.56},{"p":"bb3","t":-0.27,"distractor":0.58},{"p":"bb3","t":-0.265,"distractor":0.57},{"p":"bb3","t":-0.26,"target":0.508,"distractor":0.59},{"p":"bb3","t":-0.255,"distractor":0.61},{"p":"bb3","t":-0.25,"distractor":0.6},{"p":"bb3","t":-0.245,"distractor":0.63},{"p":"bb3","t":-0.24,"target":0.527,"distractor":0.62},{"p":"bb3","t":-0.235,"distractor":0.64},{"p":"bb3","t":-0.23,"distractor":0.63},{"p":"bb3","t":-0.225,"distractor":0.65},{"p":"bb3","t":-0.22,"target":0.55,"distractor":0.64},{"p":"bb3","t":-0.215,"distractor":0.66},{"p":"bb3","t":-0.21,"distractor":0.65},{"p":"bb3","t":-0.205,"distractor":0.68},{"p":"bb3","t":-0.2,"target":0.578,"distractor":0.665},{"p":"bb3","t":-0.195,"distractor":0.7},{"p":"bb3","t":-0.19,"distractor":0.68},{"p":"bb3","t":-0.185,"distractor":0.69},{"p":"bb3","t":-0.18,"target":0.605,"distractor":0.67},{"p":"bb3","t":-0.175,"distractor":0.69},{"p":"bb3","t":-0.17,"distractor":0.655},{"p":"bb3","t":-0.165,"distractor":0.64},{"p":"bb3","t":-0.16,"target":0.628,"distractor":0.6},{"p":"bb3","t":-0.155,"distractor":0.58},{"p":"bb3","t":-0.15,"distractor":0.55},{"p":"bb3","t":-0.145,"distractor":0.53},{"p":"bb3","t":-0.14,"target":0.645,"distractor":0.51},{"p":"bb3","t":-0.135,"distractor":0.5},{"p":"bb3","t":-0.13,"distractor":0.52},{"p":"bb3","t":-0.125,"distractor":0.49},{"p":"bb3","t":-0.12,"target":0.64,"distractor":0.53},{"p":"bb3","t":-0.11,"distractor":0.57},{"p":"bb3","t":-0.1,"target":0.62,"distractor":0.575},{"p":"bb3","t":-0.09,"distractor":0.58},{"p":"bb3","t":-0.08,"target":0.6,"distractor":0.585},{"p":"bb3","t":-0.07,"distractor":0.57},{"p":"bb3","t":-0.06,"target":0.585,"distractor":0.56},{"p":"bb3","t":-0.05,"distractor":0.57},{"p":"bb3","t":-0.04,"target":0.575,"distractor":0.56},{"p":"bb3","t":-0.03,"distractor":0.555},{"p":"bb3","t":-0.02,"target":0.565,"distractor":0.55},{"p":"bb3","t":-0.01,"distractor":0.55},{"p":"bb3","t":0,"target":0.555,"distractor":0.53},{"p":"bb3","t":0.01,"distractor":0.545},{"p":"bb3","t":0.02,"target":0.55,"distractor":0.55},{"p":"bb3","t":0.03,"distractor":0.53},{"p":"bb3","t":0.04,"target":0.54,"distractor":0.54},{"p":"bb3","t":0.05,"distractor":0.52},{"p":"bb3","t":0.06,"target":0.53,"distractor":0.53},{"p":"bb3","t":0.07,"distractor":0.51},{"p":"bb3","t":0.08,"target":0.52,"distractor":0.52},{"p":"bb3","t":0.09,"distractor":0.53},{"p":"bb3","t":0.1,"target":0.5,"distractor":0.51}
]
},
"spacing":14,
"hconcat":[
{
"title":{"text":"A","anchor":"start","frame":"bounds","dx":-21,"offset":27},
"vconcat":[{
"title":{"text":"Time from search array onset (sec)","orient":"bottom","anchor":"middle","frame":"bounds","dx":32,"offset":4},
"columns":2,
"spacing":{"row":32,"column":14},
"concat":[
{"width":180,"height":141,"title":{"text":"Monkey S","dy":8},"layer":[
{"data":{"name":"markers"},"transform":[{"filter":"datum.p === 'as1'"}],"mark":{"type":"rule","color":"#333","strokeWidth":1.2},"encoding":{"x":{"field":"t","type":"quantitative","scale":{"domain":[0,0.4],"nice":false},"axis":{"values":[0,0.05,0.1,0.15,0.2,0.25,0.3,0.35,0.4],"labels":false,"title":null,"minExtent":11.5}},"strokeDash":{"field":"event","type":"nominal","scale":{"domain":["correct RT","error RT","lever onset"],"range":[[1,0],[4,3],[1,0]]},"legend":null}}},
{"data":{"name":"curves"},"transform":[{"filter":"datum.p === 'as1' && isValid(datum.distractor)"}],"mark":{"type":"line","color":"#000","strokeWidth":1.1},"encoding":{"x":{"field":"t","type":"quantitative","scale":{"domain":[0,0.4],"nice":false},"axis":{"values":[0,0.05,0.1,0.15,0.2,0.25,0.3,0.35,0.4],"labels":false,"title":null,"minExtent":11.5}},"y":{"field":"distractor","type":"quantitative","scale":{"domain":[0,100],"nice":false},"axis":{"values":[0,10,20,30,40,50,60,70,80,90,100],"labelExpr":"datum.value % 20 === 0 ? datum.label : ''","title":["Correct trials","Activation (sp/sec)"],"minExtent":31,"titlePadding":5}}}},
{"data":{"name":"curves"},"transform":[{"filter":"datum.p === 'as1' && isValid(datum.target)"}],"mark":{"type":"line","color":"#000","strokeWidth":3},"encoding":{"x":{"field":"t","type":"quantitative","scale":{"domain":[0,0.4],"nice":false},"axis":{"values":[0,0.05,0.1,0.15,0.2,0.25,0.3,0.35,0.4],"labels":false,"title":null,"minExtent":11.5}},"y":{"field":"target","type":"quantitative","scale":{"domain":[0,100],"nice":false},"axis":{"values":[0,10,20,30,40,50,60,70,80,90,100],"labelExpr":"datum.value % 20 === 0 ? datum.label : ''","title":["Correct trials","Activation (sp/sec)"],"minExtent":31,"titlePadding":5}}}}
]},
{"width":180,"height":141,"title":{"text":"Monkey B"},"layer":[
{"data":{"name":"markers"},"transform":[{"filter":"datum.p === 'ab1'"}],"mark":{"type":"rule","color":"#333","strokeWidth":1.2},"encoding":{"x":{"field":"t","type":"quantitative","scale":{"domain":[0,0.4],"nice":false},"axis":{"values":[0,0.05,0.1,0.15,0.2,0.25,0.3,0.35,0.4],"labels":false,"title":null,"minExtent":11.5}},"strokeDash":{"field":"event","type":"nominal","scale":{"domain":["correct RT","error RT","lever onset"],"range":[[1,0],[4,3],[1,0]]},"legend":null}}},
{"data":{"name":"curves"},"transform":[{"filter":"datum.p === 'ab1' && isValid(datum.distractor)"}],"mark":{"type":"line","color":"#000","strokeWidth":1.1},"encoding":{"x":{"field":"t","type":"quantitative","scale":{"domain":[0,0.4],"nice":false},"axis":{"values":[0,0.05,0.1,0.15,0.2,0.25,0.3,0.35,0.4],"labels":false,"title":null,"minExtent":11.5}},"y":{"field":"distractor","type":"quantitative","scale":{"domain":[0,100],"nice":false},"axis":{"values":[0,10,20,30,40,50,60,70,80,90,100],"labels":false,"title":null}}}},
{"data":{"name":"curves"},"transform":[{"filter":"datum.p === 'ab1' && isValid(datum.target)"}],"mark":{"type":"line","color":"#000","strokeWidth":3},"encoding":{"x":{"field":"t","type":"quantitative","scale":{"domain":[0,0.4],"nice":false},"axis":{"values":[0,0.05,0.1,0.15,0.2,0.25,0.3,0.35,0.4],"labels":false,"title":null,"minExtent":11.5}},"y":{"field":"target","type":"quantitative","scale":{"domain":[0,100],"nice":false},"axis":{"values":[0,10,20,30,40,50,60,70,80,90,100],"labels":false,"title":null}}}}
]},
{"width":180,"height":141,"layer":[
{"data":{"name":"markers"},"transform":[{"filter":"datum.p === 'as2'"}],"mark":{"type":"rule","color":"#333","strokeWidth":1.2},"encoding":{"x":{"field":"t","type":"quantitative","scale":{"domain":[0,0.4],"nice":false},"axis":{"values":[0,0.05,0.1,0.15,0.2,0.25,0.3,0.35,0.4],"labels":false,"title":null}},"strokeDash":{"field":"event","type":"nominal","scale":{"domain":["correct RT","error RT","lever onset"],"range":[[1,0],[4,3],[1,0]]},"legend":null}}},
{"data":{"name":"curves"},"transform":[{"filter":"datum.p === 'as2' && isValid(datum.distractor)"}],"mark":{"type":"line","color":"#000","strokeWidth":1.1},"encoding":{"x":{"field":"t","type":"quantitative","scale":{"domain":[0,0.4],"nice":false},"axis":{"values":[0,0.05,0.1,0.15,0.2,0.25,0.3,0.35,0.4],"labels":false,"title":null}},"y":{"field":"distractor","type":"quantitative","scale":{"domain":[0,100],"nice":false},"axis":{"values":[0,10,20,30,40,50,60,70,80,90,100],"labelExpr":"datum.value % 20 === 0 ? datum.label : ''","title":["Error trials","Activation (sp/sec)"],"minExtent":31,"titlePadding":5}}}},
{"data":{"name":"curves"},"transform":[{"filter":"datum.p === 'as2' && isValid(datum.target)"}],"mark":{"type":"line","color":"#000","strokeWidth":3},"encoding":{"x":{"field":"t","type":"quantitative","scale":{"domain":[0,0.4],"nice":false},"axis":{"values":[0,0.05,0.1,0.15,0.2,0.25,0.3,0.35,0.4],"labels":false,"title":null}},"y":{"field":"target","type":"quantitative","scale":{"domain":[0,100],"nice":false},"axis":{"values":[0,10,20,30,40,50,60,70,80,90,100],"labelExpr":"datum.value % 20 === 0 ? datum.label : ''","title":["Error trials","Activation (sp/sec)"],"minExtent":31,"titlePadding":5}}}}
]},
{"width":180,"height":141,"layer":[
{"data":{"name":"markers"},"transform":[{"filter":"datum.p === 'ab2'"}],"mark":{"type":"rule","color":"#333","strokeWidth":1.2},"encoding":{"x":{"field":"t","type":"quantitative","scale":{"domain":[0,0.4],"nice":false},"axis":{"values":[0,0.05,0.1,0.15,0.2,0.25,0.3,0.35,0.4],"labels":false,"title":null}},"strokeDash":{"field":"event","type":"nominal","scale":{"domain":["correct RT","error RT","lever onset"],"range":[[1,0],[4,3],[1,0]]},"legend":null}}},
{"data":{"name":"curves"},"transform":[{"filter":"datum.p === 'ab2' && isValid(datum.distractor)"}],"mark":{"type":"line","color":"#000","strokeWidth":1.1},"encoding":{"x":{"field":"t","type":"quantitative","scale":{"domain":[0,0.4],"nice":false},"axis":{"values":[0,0.05,0.1,0.15,0.2,0.25,0.3,0.35,0.4],"labels":false,"title":null}},"y":{"field":"distractor","type":"quantitative","scale":{"domain":[0,100],"nice":false},"axis":{"values":[0,10,20,30,40,50,60,70,80,90,100],"labels":false,"title":null}}}},
{"data":{"name":"curves"},"transform":[{"filter":"datum.p === 'ab2' && isValid(datum.target)"}],"mark":{"type":"line","color":"#000","strokeWidth":3},"encoding":{"x":{"field":"t","type":"quantitative","scale":{"domain":[0,0.4],"nice":false},"axis":{"values":[0,0.05,0.1,0.15,0.2,0.25,0.3,0.35,0.4],"labels":false,"title":null}},"y":{"field":"target","type":"quantitative","scale":{"domain":[0,100],"nice":false},"axis":{"values":[0,10,20,30,40,50,60,70,80,90,100],"labels":false,"title":null}}}}
]},
{"width":180,"height":141,"layer":[
{"data":{"values":[{"chance":0.5}]},"mark":{"type":"rule","color":"#666","strokeDash":[5,3],"strokeWidth":1},"encoding":{"y":{"field":"chance","type":"quantitative","scale":{"domain":[0.4,0.8],"nice":false,"zero":false},"axis":{"values":[0.4,0.45,0.5,0.55,0.6,0.65,0.7,0.75,0.8],"labelExpr":"round(datum.value*100) % 10 === 0 ? format(datum.value, '.1f') : ''","title":"ROC","minExtent":31,"titlePadding":31}}}},
{"data":{"name":"markers"},"transform":[{"filter":"datum.p === 'as3'"}],"mark":{"type":"rule","color":"#333","strokeWidth":1.2},"encoding":{"x":{"field":"t","type":"quantitative","scale":{"domain":[0,0.4],"nice":false},"axis":{"values":[0,0.05,0.1,0.15,0.2,0.25,0.3,0.35,0.4],"title":null,"labelExpr":"round(datum.value*100) % 10 === 0 ? (datum.value === 0 ? '0' : format(datum.value, '.2f')) : ''"}},"strokeDash":{"field":"event","type":"nominal","scale":{"domain":["correct RT","error RT","lever onset"],"range":[[1,0],[4,3],[1,0]]},"legend":null}}},
{"data":{"name":"curves"},"transform":[{"filter":"datum.p === 'as3' && isValid(datum.distractor)"}],"mark":{"type":"line","color":"#000","strokeWidth":1.1},"encoding":{"x":{"field":"t","type":"quantitative","scale":{"domain":[0,0.4],"nice":false},"axis":{"values":[0,0.05,0.1,0.15,0.2,0.25,0.3,0.35,0.4],"title":null,"labelExpr":"round(datum.value*100) % 10 === 0 ? (datum.value === 0 ? '0' : format(datum.value, '.2f')) : ''"}},"y":{"field":"distractor","type":"quantitative","scale":{"domain":[0.4,0.8],"nice":false,"zero":false},"axis":{"values":[0.4,0.45,0.5,0.55,0.6,0.65,0.7,0.75,0.8],"labelExpr":"round(datum.value*100) % 10 === 0 ? format(datum.value, '.1f') : ''","title":"ROC","minExtent":31,"titlePadding":31}}}},
{"data":{"name":"curves"},"transform":[{"filter":"datum.p === 'as3' && isValid(datum.target)"}],"mark":{"type":"line","color":"#000","strokeWidth":3},"encoding":{"x":{"field":"t","type":"quantitative","scale":{"domain":[0,0.4],"nice":false},"axis":{"values":[0,0.05,0.1,0.15,0.2,0.25,0.3,0.35,0.4],"title":null,"labelExpr":"round(datum.value*100) % 10 === 0 ? (datum.value === 0 ? '0' : format(datum.value, '.2f')) : ''"}},"y":{"field":"target","type":"quantitative","scale":{"domain":[0.4,0.8],"nice":false,"zero":false},"axis":{"values":[0.4,0.45,0.5,0.55,0.6,0.65,0.7,0.75,0.8],"labelExpr":"round(datum.value*100) % 10 === 0 ? format(datum.value, '.1f') : ''","title":"ROC","minExtent":31,"titlePadding":31}}}}
]},
{"width":180,"height":141,"layer":[
{"data":{"values":[{"chance":0.5}]},"mark":{"type":"rule","color":"#666","strokeDash":[5,3],"strokeWidth":1},"encoding":{"y":{"field":"chance","type":"quantitative","scale":{"domain":[0.4,0.8],"nice":false,"zero":false},"axis":{"values":[0.4,0.45,0.5,0.55,0.6,0.65,0.7,0.75,0.8],"labels":false,"title":null}}}},
{"data":{"name":"markers"},"transform":[{"filter":"datum.p === 'ab3'"}],"mark":{"type":"rule","color":"#333","strokeWidth":1.2},"encoding":{"x":{"field":"t","type":"quantitative","scale":{"domain":[0,0.4],"nice":false},"axis":{"values":[0,0.05,0.1,0.15,0.2,0.25,0.3,0.35,0.4],"title":null,"labelExpr":"round(datum.value*100) % 10 === 0 ? (datum.value === 0 ? '0' : format(datum.value, '.2f')) : ''"}},"strokeDash":{"field":"event","type":"nominal","scale":{"domain":["correct RT","error RT","lever onset"],"range":[[1,0],[4,3],[1,0]]},"legend":null}}},
{"data":{"name":"curves"},"transform":[{"filter":"datum.p === 'ab3' && isValid(datum.distractor)"}],"mark":{"type":"line","color":"#000","strokeWidth":1.1},"encoding":{"x":{"field":"t","type":"quantitative","scale":{"domain":[0,0.4],"nice":false},"axis":{"values":[0,0.05,0.1,0.15,0.2,0.25,0.3,0.35,0.4],"title":null,"labelExpr":"round(datum.value*100) % 10 === 0 ? (datum.value === 0 ? '0' : format(datum.value, '.2f')) : ''"}},"y":{"field":"distractor","type":"quantitative","scale":{"domain":[0.4,0.8],"nice":false,"zero":false},"axis":{"values":[0.4,0.45,0.5,0.55,0.6,0.65,0.7,0.75,0.8],"labels":false,"title":null}}}},
{"data":{"name":"curves"},"transform":[{"filter":"datum.p === 'ab3' && isValid(datum.target)"}],"mark":{"type":"line","color":"#000","strokeWidth":3},"encoding":{"x":{"field":"t","type":"quantitative","scale":{"domain":[0,0.4],"nice":false},"axis":{"values":[0,0.05,0.1,0.15,0.2,0.25,0.3,0.35,0.4],"title":null,"labelExpr":"round(datum.value*100) % 10 === 0 ? (datum.value === 0 ? '0' : format(datum.value, '.2f')) : ''"}},"y":{"field":"target","type":"quantitative","scale":{"domain":[0.4,0.8],"nice":false,"zero":false},"axis":{"values":[0.4,0.45,0.5,0.55,0.6,0.65,0.7,0.75,0.8],"labels":false,"title":null}}}}
]}
]}]
},
{
"title":{"text":"B","anchor":"start","frame":"bounds","dx":-18,"offset":27},
"vconcat":[{
"title":{"text":"Time from lever turn onset (sec)","orient":"bottom","anchor":"middle","frame":"bounds","dx":38,"offset":4},
"columns":2,
"spacing":{"row":32,"column":11},
"concat":[
{"width":180,"height":141,"title":{"text":"Monkey S","dy":8},"layer":[
{"data":{"name":"markers"},"transform":[{"filter":"datum.p === 'bs1'"}],"mark":{"type":"rule","color":"#333","strokeWidth":1.2},"encoding":{"x":{"field":"t","type":"quantitative","scale":{"domain":[-0.4,0.1],"nice":false},"axis":{"values":[-0.4,-0.3,-0.2,-0.1,0,0.1],"labels":false,"title":null,"minExtent":11.5}},"strokeDash":{"field":"event","type":"nominal","scale":{"domain":["correct RT","error RT","lever onset"],"range":[[1,0],[4,3],[1,0]]},"legend":null}}},
{"data":{"name":"curves"},"transform":[{"filter":"datum.p === 'bs1' && isValid(datum.distractor)"}],"mark":{"type":"line","color":"#000","strokeWidth":1.1},"encoding":{"x":{"field":"t","type":"quantitative","scale":{"domain":[-0.4,0.1],"nice":false},"axis":{"values":[-0.4,-0.3,-0.2,-0.1,0,0.1],"labels":false,"title":null,"minExtent":11.5}},"y":{"field":"distractor","type":"quantitative","scale":{"domain":[0,100],"nice":false},"axis":{"values":[0,10,20,30,40,50,60,70,80,90,100],"labelExpr":"datum.value % 20 === 0 ? datum.label : ''","title":["Correct trials","Activation (sp/sec)"],"minExtent":31,"titlePadding":5}}}},
{"data":{"name":"curves"},"transform":[{"filter":"datum.p === 'bs1' && isValid(datum.target)"}],"mark":{"type":"line","color":"#000","strokeWidth":3},"encoding":{"x":{"field":"t","type":"quantitative","scale":{"domain":[-0.4,0.1],"nice":false},"axis":{"values":[-0.4,-0.3,-0.2,-0.1,0,0.1],"labels":false,"title":null,"minExtent":11.5}},"y":{"field":"target","type":"quantitative","scale":{"domain":[0,100],"nice":false},"axis":{"values":[0,10,20,30,40,50,60,70,80,90,100],"labelExpr":"datum.value % 20 === 0 ? datum.label : ''","title":["Correct trials","Activation (sp/sec)"],"minExtent":31,"titlePadding":5}}}}
]},
{"width":180,"height":141,"title":{"text":"Monkey B"},"layer":[
{"data":{"name":"markers"},"transform":[{"filter":"datum.p === 'bb1'"}],"mark":{"type":"rule","color":"#333","strokeWidth":1.2},"encoding":{"x":{"field":"t","type":"quantitative","scale":{"domain":[-0.4,0.1],"nice":false},"axis":{"values":[-0.4,-0.3,-0.2,-0.1,0,0.1],"labels":false,"title":null,"minExtent":11.5}},"strokeDash":{"field":"event","type":"nominal","scale":{"domain":["correct RT","error RT","lever onset"],"range":[[1,0],[4,3],[1,0]]},"legend":null}}},
{"data":{"name":"curves"},"transform":[{"filter":"datum.p === 'bb1' && isValid(datum.distractor)"}],"mark":{"type":"line","color":"#000","strokeWidth":1.1},"encoding":{"x":{"field":"t","type":"quantitative","scale":{"domain":[-0.4,0.1],"nice":false},"axis":{"values":[-0.4,-0.3,-0.2,-0.1,0,0.1],"labels":false,"title":null,"minExtent":11.5}},"y":{"field":"distractor","type":"quantitative","scale":{"domain":[0,100],"nice":false},"axis":{"values":[0,10,20,30,40,50,60,70,80,90,100],"labels":false,"title":null}}}},
{"data":{"name":"curves"},"transform":[{"filter":"datum.p === 'bb1' && isValid(datum.target)"}],"mark":{"type":"line","color":"#000","strokeWidth":3},"encoding":{"x":{"field":"t","type":"quantitative","scale":{"domain":[-0.4,0.1],"nice":false},"axis":{"values":[-0.4,-0.3,-0.2,-0.1,0,0.1],"labels":false,"title":null,"minExtent":11.5}},"y":{"field":"target","type":"quantitative","scale":{"domain":[0,100],"nice":false},"axis":{"values":[0,10,20,30,40,50,60,70,80,90,100],"labels":false,"title":null}}}}
]},
{"width":180,"height":141,"layer":[
{"data":{"name":"markers"},"transform":[{"filter":"datum.p === 'bs2'"}],"mark":{"type":"rule","color":"#333","strokeWidth":1.2},"encoding":{"x":{"field":"t","type":"quantitative","scale":{"domain":[-0.4,0.1],"nice":false},"axis":{"values":[-0.4,-0.3,-0.2,-0.1,0,0.1],"labels":false,"title":null}},"strokeDash":{"field":"event","type":"nominal","scale":{"domain":["correct RT","error RT","lever onset"],"range":[[1,0],[4,3],[1,0]]},"legend":null}}},
{"data":{"name":"curves"},"transform":[{"filter":"datum.p === 'bs2' && isValid(datum.distractor)"}],"mark":{"type":"line","color":"#000","strokeWidth":1.1},"encoding":{"x":{"field":"t","type":"quantitative","scale":{"domain":[-0.4,0.1],"nice":false},"axis":{"values":[-0.4,-0.3,-0.2,-0.1,0,0.1],"labels":false,"title":null}},"y":{"field":"distractor","type":"quantitative","scale":{"domain":[0,100],"nice":false},"axis":{"values":[0,10,20,30,40,50,60,70,80,90,100],"labelExpr":"datum.value % 20 === 0 ? datum.label : ''","title":["Error trials","Activation (sp/sec)"],"minExtent":31,"titlePadding":5}}}},
{"data":{"name":"curves"},"transform":[{"filter":"datum.p === 'bs2' && isValid(datum.target)"}],"mark":{"type":"line","color":"#000","strokeWidth":3},"encoding":{"x":{"field":"t","type":"quantitative","scale":{"domain":[-0.4,0.1],"nice":false},"axis":{"values":[-0.4,-0.3,-0.2,-0.1,0,0.1],"labels":false,"title":null}},"y":{"field":"target","type":"quantitative","scale":{"domain":[0,100],"nice":false},"axis":{"values":[0,10,20,30,40,50,60,70,80,90,100],"labelExpr":"datum.value % 20 === 0 ? datum.label : ''","title":["Error trials","Activation (sp/sec)"],"minExtent":31,"titlePadding":5}}}}
]},
{"width":180,"height":141,"layer":[
{"data":{"name":"markers"},"transform":[{"filter":"datum.p === 'bb2'"}],"mark":{"type":"rule","color":"#333","strokeWidth":1.2},"encoding":{"x":{"field":"t","type":"quantitative","scale":{"domain":[-0.4,0.1],"nice":false},"axis":{"values":[-0.4,-0.3,-0.2,-0.1,0,0.1],"labels":false,"title":null}},"strokeDash":{"field":"event","type":"nominal","scale":{"domain":["correct RT","error RT","lever onset"],"range":[[1,0],[4,3],[1,0]]},"legend":null}}},
{"data":{"name":"curves"},"transform":[{"filter":"datum.p === 'bb2' && isValid(datum.distractor)"}],"mark":{"type":"line","color":"#000","strokeWidth":1.1},"encoding":{"x":{"field":"t","type":"quantitative","scale":{"domain":[-0.4,0.1],"nice":false},"axis":{"values":[-0.4,-0.3,-0.2,-0.1,0,0.1],"labels":false,"title":null}},"y":{"field":"distractor","type":"quantitative","scale":{"domain":[0,100],"nice":false},"axis":{"values":[0,10,20,30,40,50,60,70,80,90,100],"labels":false,"title":null}}}},
{"data":{"name":"curves"},"transform":[{"filter":"datum.p === 'bb2' && isValid(datum.target)"}],"mark":{"type":"line","color":"#000","strokeWidth":3},"encoding":{"x":{"field":"t","type":"quantitative","scale":{"domain":[-0.4,0.1],"nice":false},"axis":{"values":[-0.4,-0.3,-0.2,-0.1,0,0.1],"labels":false,"title":null}},"y":{"field":"target","type":"quantitative","scale":{"domain":[0,100],"nice":false},"axis":{"values":[0,10,20,30,40,50,60,70,80,90,100],"labels":false,"title":null}}}}
]},
{"width":180,"height":141,"layer":[
{"data":{"values":[{"chance":0.5}]},"mark":{"type":"rule","color":"#666","strokeDash":[5,3],"strokeWidth":1},"encoding":{"y":{"field":"chance","type":"quantitative","scale":{"domain":[0.4,0.8],"nice":false,"zero":false},"axis":{"values":[0.4,0.45,0.5,0.55,0.6,0.65,0.7,0.75,0.8],"labelExpr":"round(datum.value*100) % 10 === 0 ? format(datum.value, '.1f') : ''","title":"ROC","minExtent":31,"titlePadding":31}}}},
{"data":{"name":"markers"},"transform":[{"filter":"datum.p === 'bs3'"}],"mark":{"type":"rule","color":"#333","strokeWidth":1.2},"encoding":{"x":{"field":"t","type":"quantitative","scale":{"domain":[-0.4,0.1],"nice":false},"axis":{"values":[-0.4,-0.3,-0.2,-0.1,0,0.1],"title":null,"labelExpr":"datum.value === 0 ? '0' : ((datum.value > 0 || abs(round(datum.value*10)) % 2 === 0) ? ((datum.value < 0 ? '-' : '') + format(abs(datum.value), '.2f')) : '')"}},"strokeDash":{"field":"event","type":"nominal","scale":{"domain":["correct RT","error RT","lever onset"],"range":[[1,0],[4,3],[1,0]]},"legend":null}}},
{"data":{"name":"curves"},"transform":[{"filter":"datum.p === 'bs3' && isValid(datum.distractor)"}],"mark":{"type":"line","color":"#000","strokeWidth":1.1},"encoding":{"x":{"field":"t","type":"quantitative","scale":{"domain":[-0.4,0.1],"nice":false},"axis":{"values":[-0.4,-0.3,-0.2,-0.1,0,0.1],"title":null,"labelExpr":"datum.value === 0 ? '0' : ((datum.value > 0 || abs(round(datum.value*10)) % 2 === 0) ? ((datum.value < 0 ? '-' : '') + format(abs(datum.value), '.2f')) : '')"}},"y":{"field":"distractor","type":"quantitative","scale":{"domain":[0.4,0.8],"nice":false,"zero":false},"axis":{"values":[0.4,0.45,0.5,0.55,0.6,0.65,0.7,0.75,0.8],"labelExpr":"round(datum.value*100) % 10 === 0 ? format(datum.value, '.1f') : ''","title":"ROC","minExtent":31,"titlePadding":31}}}},
{"data":{"name":"curves"},"transform":[{"filter":"datum.p === 'bs3' && isValid(datum.target)"}],"mark":{"type":"line","color":"#000","strokeWidth":3},"encoding":{"x":{"field":"t","type":"quantitative","scale":{"domain":[-0.4,0.1],"nice":false},"axis":{"values":[-0.4,-0.3,-0.2,-0.1,0,0.1],"title":null,"labelExpr":"datum.value === 0 ? '0' : ((datum.value > 0 || abs(round(datum.value*10)) % 2 === 0) ? ((datum.value < 0 ? '-' : '') + format(abs(datum.value), '.2f')) : '')"}},"y":{"field":"target","type":"quantitative","scale":{"domain":[0.4,0.8],"nice":false,"zero":false},"axis":{"values":[0.4,0.45,0.5,0.55,0.6,0.65,0.7,0.75,0.8],"labelExpr":"round(datum.value*100) % 10 === 0 ? format(datum.value, '.1f') : ''","title":"ROC","minExtent":31,"titlePadding":31}}}}
]},
{"width":180,"height":141,"layer":[
{"data":{"values":[{"chance":0.5}]},"mark":{"type":"rule","color":"#666","strokeDash":[5,3],"strokeWidth":1},"encoding":{"y":{"field":"chance","type":"quantitative","scale":{"domain":[0.4,0.8],"nice":false,"zero":false},"axis":{"values":[0.4,0.45,0.5,0.55,0.6,0.65,0.7,0.75,0.8],"labels":false,"title":null}}}},
{"data":{"name":"markers"},"transform":[{"filter":"datum.p === 'bb3'"}],"mark":{"type":"rule","color":"#333","strokeWidth":1.2},"encoding":{"x":{"field":"t","type":"quantitative","scale":{"domain":[-0.4,0.1],"nice":false},"axis":{"values":[-0.4,-0.3,-0.2,-0.1,0,0.1],"title":null,"labelExpr":"datum.value === 0 ? '0' : ((datum.value > 0 || abs(round(datum.value*10)) % 2 === 0) ? ((datum.value < 0 ? '-' : '') + format(abs(datum.value), '.2f')) : '')"}},"strokeDash":{"field":"event","type":"nominal","scale":{"domain":["correct RT","error RT","lever onset"],"range":[[1,0],[4,3],[1,0]]},"legend":null}}},
{"data":{"name":"curves"},"transform":[{"filter":"datum.p === 'bb3' && isValid(datum.distractor)"}],"mark":{"type":"line","color":"#000","strokeWidth":1.1},"encoding":{"x":{"field":"t","type":"quantitative","scale":{"domain":[-0.4,0.1],"nice":false},"axis":{"values":[-0.4,-0.3,-0.2,-0.1,0,0.1],"title":null,"labelExpr":"datum.value === 0 ? '0' : ((datum.value > 0 || abs(round(datum.value*10)) % 2 === 0) ? ((datum.value < 0 ? '-' : '') + format(abs(datum.value), '.2f')) : '')"}},"y":{"field":"distractor","type":"quantitative","scale":{"domain":[0.4,0.8],"nice":false,"zero":false},"axis":{"values":[0.4,0.45,0.5,0.55,0.6,0.65,0.7,0.75,0.8],"labels":false,"title":null}}}},
{"data":{"name":"curves"},"transform":[{"filter":"datum.p === 'bb3' && isValid(datum.target)"}],"mark":{"type":"line","color":"#000","strokeWidth":3},"encoding":{"x":{"field":"t","type":"quantitative","scale":{"domain":[-0.4,0.1],"nice":false},"axis":{"values":[-0.4,-0.3,-0.2,-0.1,0,0.1],"title":null,"labelExpr":"datum.value === 0 ? '0' : ((datum.value > 0 || abs(round(datum.value*10)) % 2 === 0) ? ((datum.value < 0 ? '-' : '') + format(abs(datum.value), '.2f')) : '')"}},"y":{"field":"target","type":"quantitative","scale":{"domain":[0.4,0.8],"nice":false,"zero":false},"axis":{"values":[0.4,0.45,0.5,0.55,0.6,0.65,0.7,0.75,0.8],"labels":false,"title":null}}}}
]}
]}]
}
],
"config":{
"font":"Liberation Serif",
"view":{"stroke":null},
"axis":{"domainColor":"#000","domainWidth":2,"tickColor":"#000","tickWidth":1.5,"tickSize":6,"grid":false,"labelFont":"Liberation Serif","labelFontSize":14,"labelColor":"#000","labelPadding":3,"labelFlush":false,"labelOverlap":false,"titleFont":"Liberation Serif","titleFontSize":21,"titleFontWeight":"normal","titleColor":"#000","titleLineHeight":20},
"axisY":{"labelPadding":4},
"title":{"font":"Liberation Serif","fontSize":22,"fontWeight":"normal","color":"#000","baseline":"alphabetic","offset":16},
"line":{"strokeJoin":"round"}
}
}
